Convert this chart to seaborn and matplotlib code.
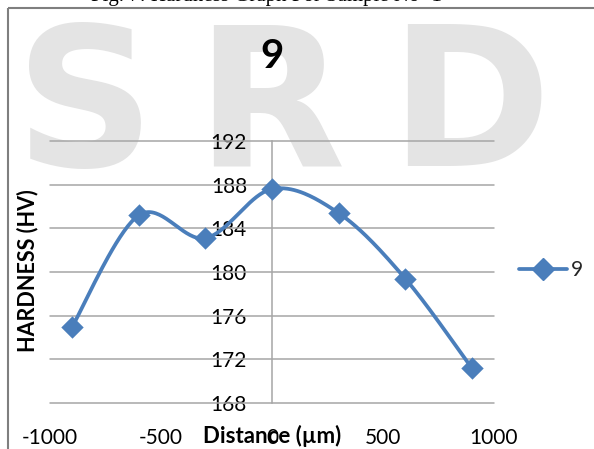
import numpy as np
import pandas as pd
import matplotlib
matplotlib.use("Agg")
import matplotlib.pyplot as plt
from matplotlib.patches import Rectangle
from matplotlib.lines import Line2D
import seaborn as sns

# ---- data ----
distance = [-900, -600, -300, 0, 300, 600, 900]
hardness = [175.0, 185.2, 183.1, 187.6, 185.4, 179.4, 171.2]
series_name = "9"
x_ticks = [-1000, -500, 0, 500, 1000]
y_ticks = [168, 172, 176, 180, 184, 188, 192]

sns.set_theme(style="white")
plt.rcParams['font.family'] = ['Lato', 'DejaVu Sans']

BLUE = "#4a7ebb"
GRID = "#a6a6a6"

fig = plt.figure(figsize=(5.94, 4.49), dpi=100)
W, H = 594, 449

# background axes for watermark / frame / caption
bg = fig.add_axes([0, 0, 1, 1], zorder=-5)
bg.set_xlim(0, W)
bg.set_ylim(H, 0)
bg.axis('off')
for ch, xc in [("S", 85), ("R", 270), ("D", 470)]:
    bg.text(xc, 166, ch, fontsize=140, fontweight='bold',
            color="#e4e4e4", ha='center', va='baseline',
            family='DejaVu Sans')
bg.text(266, 1.5, "Fig. 7: Hardness Graph For Sample No- 1",
        fontsize=15, family='Liberation Serif', ha='center', va='baseline',
        color='black')
bg.add_patch(Rectangle((8, 8), 700, 600, fill=False,
                       edgecolor='#7f7f7f', lw=1.5))

ax = fig.add_axes([50 / W, 1 - 403 / H, 444 / W, 262 / H])
ax.set_facecolor('none')

# smoothed line (Excel-like Catmull-Rom Bezier)
P = np.column_stack([distance, hardness]).astype(float)
n = len(P)
sx, sy = [], []
t = np.linspace(0, 1, 40)
for i in range(n - 1):
    p0 = P[max(i - 1, 0)]
    p1 = P[i]
    p2 = P[i + 1]
    p3 = P[min(i + 2, n - 1)]
    c1 = p1 + (p2 - p0) / 6
    c2 = p2 - (p3 - p1) / 6
    seg = ((1 - t) ** 3)[:, None] * p1 + (3 * (1 - t) ** 2 * t)[:, None] * c1 \
        + (3 * (1 - t) * t ** 2)[:, None] * c2 + (t ** 3)[:, None] * p2
    sx.extend(seg[:, 0]); sy.extend(seg[:, 1])

smooth = pd.DataFrame({"x": sx, "y": sy})
pts = pd.DataFrame({"Distance": distance, "Hardness": hardness})
ax.plot(smooth["x"], smooth["y"], color=BLUE, lw=2.7, zorder=3, solid_capstyle='round')
sns.scatterplot(data=pts, x="Distance", y="Hardness", marker='D', s=130,
                color=BLUE, edgecolor=BLUE, linewidth=0, ax=ax, zorder=4)

ax.set_xlim(-1000, 1000)
ax.set_ylim(168, 192)
ax.set_xticks(x_ticks)
ax.set_yticks(y_ticks)
ax.set_xticklabels([str(v) for v in x_ticks])
ax.set_yticklabels([str(v) for v in y_ticks])

for yv in y_ticks:
    ax.axhline(yv, color=GRID, lw=1.1, zorder=1, clip_on=False)

ax.spines['top'].set_visible(False)
ax.spines['right'].set_visible(False)
ax.spines['bottom'].set_visible(False)
ax.spines['left'].set_position(('data', 0))
ax.spines['left'].set_color(GRID)
ax.spines['left'].set_linewidth(1.1)
ax.spines['left'].set_zorder(1)

ax.tick_params(axis='y', length=0, pad=18, labelsize=15, colors='black')
ax.tick_params(axis='x', length=0, pad=18, labelsize=15, colors='black')

ax.set_xlabel("Distance (µm)", fontsize=16, fontweight='bold', color='black')
ax.xaxis.set_label_coords(0.5, -(436 - 403) / 262)
ax.xaxis.label.set_va('center')
ax.set_ylabel("HARDNESS (HV)", fontsize=15.5, fontweight='bold', color='black')
ax.yaxis.set_label_coords(-(50 - 28) / 444, 1 - (271 - 141) / 262)
ax.yaxis.label.set_va('center')

ax.text(0.5, 1 + (141 - 56) / 262, "9", transform=ax.transAxes, fontsize=29,
        fontweight='bold', color='black', ha='center', va='center')

handle = Line2D([], [], color=BLUE, lw=2.7, marker='D', markersize=11)
leg = fig.legend([handle], [series_name], loc='center left',
                 bbox_to_anchor=(500 / W, 1 - 270 / H), frameon=False,
                 fontsize=15, handlelength=2.3, handletextpad=0.2)

fig.savefig("out.png", dpi=100)
